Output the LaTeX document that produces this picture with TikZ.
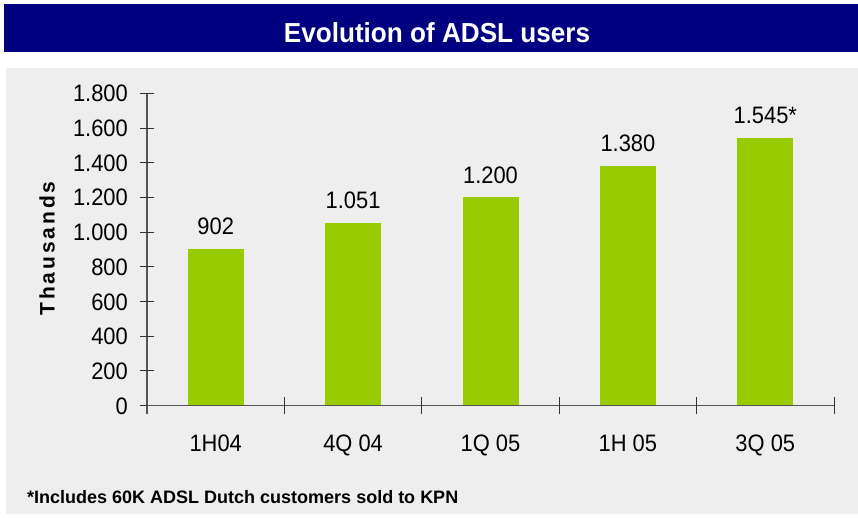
\documentclass[tikz,border=0pt]{standalone}
\usepackage{fontspec}
\setmainfont{Liberation Sans}
\newfontfamily\spacedbold[LetterSpace=14]{Liberation Sans}
\newfontfamily\condfont[FakeStretch=0.92]{Liberation Sans}
\newfontfamily\titlefont[FakeStretch=0.95]{Liberation Sans}
\definecolor{navy}{HTML}{000080}
\definecolor{bargreen}{HTML}{99CC00}
\definecolor{bggray}{HTML}{EEEEEE}
\definecolor{axisgray}{HTML}{555555}
\begin{document}
\begin{tikzpicture}[x=1pt,y=-1pt,
  valfont/.style={font=\condfont\fontsize{23.8}{28}\selectfont},
  ticklab/.style={valfont,anchor=base east,inner sep=0pt},
  catlab/.style={valfont,anchor=base,inner sep=0pt},
  barlab/.style={valfont,anchor=base,inner sep=0pt},
  axisline/.style={draw=axisgray,line width=1.1pt},
  tickline/.style={draw=black!80,line width=0.9pt}]
\useasboundingbox (0,0) rectangle (858,517);
% backgrounds
\fill[bggray] (6,68) rectangle (858,514);
\fill[navy] (4,4) rectangle (858,52);
\node[anchor=base,text=white,inner sep=0pt,font=\titlefont\bfseries\fontsize{27.5}{32}\selectfont] (title) at (437,42.5) {Evolution of ADSL users};
% axis geometry: 0 at y=405.6, 200 units = 34.7 px
\def\yz{405.6}
\def\ys{0.1735}
% bars
\foreach \i/\v/\lab/\cat in {0/902/902/1H04,1/1051/1.051/4Q 04,2/1200/1.200/1Q 05,3/1380/1.380/1H 05,4/1545/1.545*/3Q 05}{
  \pgfmathsetmacro{\cx}{147+137.4*\i+68.7}
  \pgfmathsetmacro{\top}{\yz-\v*\ys}
  \fill[bargreen] (\cx-28,\top) rectangle (\cx+28,\yz);
  \node[barlab] (val\i) at (\cx,\top-14.4) {\lab};
  \node[catlab] (cat\i) at (\cx,451.5) {\cat};
}
% y axis
\draw[axisline] (147,93.3) -- (147,413.5);
\foreach \k/\t in {0/0,1/200,2/400,3/600,4/800,5/1.000,6/1.200,7/1.400,8/1.600,9/1.800}{
  \pgfmathsetmacro{\ty}{\yz-\k*34.7}
  \draw[tickline] (140,\ty) -- (154,\ty);
  \node[ticklab] (yl\k) at (128,\ty+8.5) {\t};
}
% x axis
\draw[axisline] (147,\yz) -- (834,\yz);
\foreach \i in {1,...,5}{
  \pgfmathsetmacro{\tx}{147+137.4*\i}
  \draw[tickline] (\tx,397) -- (\tx,413.5);
}
% axis title
\node[rotate=90,anchor=base,inner sep=0pt,font=\spacedbold\bfseries\fontsize{21}{25}\selectfont] (ytitle) at (54.5,248.5) {Thausands};
% footnote
\node[anchor=base west,inner sep=0pt,font=\bfseries\fontsize{18}{22}\selectfont] (foot) at (27,503) {*Includes 60K ADSL Dutch customers sold to KPN};
\end{tikzpicture}
\end{document}
